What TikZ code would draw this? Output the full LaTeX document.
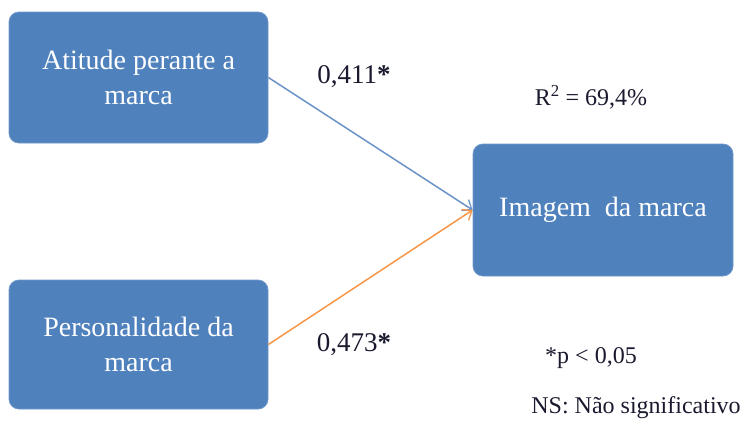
\documentclass[tikz,border=0pt]{standalone}
\usepackage{fontspec}
\setmainfont{Liberation Serif}
\usetikzlibrary{arrows.meta}
\definecolor{boxblue}{HTML}{4F81BD}
\definecolor{boxedge}{HTML}{6F97C9}
\definecolor{lineblue}{HTML}{6A93C8}
\definecolor{lineorange}{HTML}{F79646}
\definecolor{labeltext}{HTML}{1A1A2E}
\tikzset{
  construct/.style={rectangle, rounded corners=10pt, fill=boxblue, draw=boxedge,
    line width=0.8pt, text=white, align=center,
    font=\fontsize{28}{35}\selectfont, inner sep=0pt},
  path coef/.style={text=labeltext, font=\fontsize{27}{32}\selectfont, inner sep=0pt},
  note/.style={text=labeltext, font=\fontsize{24}{28}\selectfont, inner sep=0pt},
  effect/.style={line width=1.5pt, -{Straight Barb[length=8pt,width=13pt,line width=1.3pt]}}
}
\begin{document}
\begin{tikzpicture}[x=1pt,y=-1pt]
  \useasboundingbox (0,0) rectangle (749,421);

  % latent constructs
  \node[construct, minimum width=259pt, minimum height=131pt] (atitude) at (138.5,77.5)
    {Atitude perante a\\marca};
  \node[construct, minimum width=259pt, minimum height=129pt] (personalidade) at (138.5,344.5)
    {Personalidade da\\marca};
  \node[construct, minimum width=260pt, minimum height=132pt] (imagem) at (603,210)
    {Imagem\ \ da marca};

  % structural paths
  \draw[effect, lineblue] (atitude.east) -- (imagem.west);
  \draw[effect, lineorange] (personalidade.east) -- (imagem.west);

  % coefficients and notes
  \node[path coef] (coefA) at (354,77) {0,411\textbf{*}};
  \node[path coef] (coefP) at (354,345) {0,473\textbf{*}};
  \node[note] (rsq) at (591,97) {R\textsuperscript{2} = 69,4\%};
  \node[note] (sig) at (591,358) {*p < 0,05};
  \node[note] (ns) at (636,408) {NS: Não significativo};
\end{tikzpicture}
\end{document}
